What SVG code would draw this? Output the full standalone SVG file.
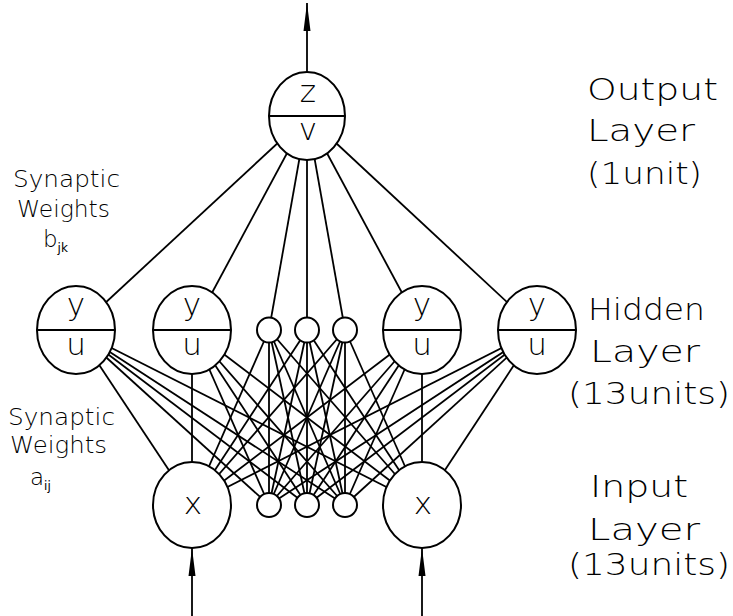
<svg xmlns="http://www.w3.org/2000/svg" width="733" height="616" viewBox="0 0 733 616">
<style>
.c{stroke:#000;stroke-width:1.8;fill:none}
.n{stroke:#000;stroke-width:2;fill:#fff}
.d{stroke:#000;stroke-width:2}
.t{font-family:"DejaVu Sans","Liberation Sans",sans-serif;font-weight:200;fill:#000}
.lab{font-size:30px}
.sm{font-size:23px}
.nl{font-size:31px;text-anchor:middle}
</style>
<defs>
<marker id="ah" viewBox="0 -4 28 8" refX="28" refY="0" markerWidth="28" markerHeight="8" markerUnits="userSpaceOnUse" orient="auto">
<path d="M0,-3.5 L28,0 L0,3.5 z" fill="#000"/>
</marker>
</defs>
<rect width="733" height="616" fill="#fff"/>
<g id="connectors" class="c">
<line x1="307" y1="72" x2="307" y2="3" marker-end="url(#ah)"/>
<line x1="192" y1="616" x2="192" y2="548" marker-end="url(#ah)"/>
<line x1="422" y1="616" x2="422" y2="548" marker-end="url(#ah)"/>
<line x1="307" y1="116" x2="76" y2="330"/>
<line x1="307" y1="116" x2="192" y2="330"/>
<line x1="307" y1="116" x2="269" y2="330"/>
<line x1="307" y1="116" x2="307" y2="330"/>
<line x1="307" y1="116" x2="345" y2="330"/>
<line x1="307" y1="116" x2="422" y2="330"/>
<line x1="307" y1="116" x2="537" y2="330"/>
<line x1="76" y1="330" x2="192" y2="505"/><line x1="76" y1="330" x2="269" y2="505"/><line x1="76" y1="330" x2="307" y2="505"/><line x1="76" y1="330" x2="345" y2="505"/><line x1="76" y1="330" x2="422" y2="505"/>
<line x1="192" y1="330" x2="192" y2="505"/><line x1="192" y1="330" x2="269" y2="505"/><line x1="192" y1="330" x2="307" y2="505"/><line x1="192" y1="330" x2="345" y2="505"/><line x1="192" y1="330" x2="422" y2="505"/>
<line x1="269" y1="330" x2="192" y2="505"/><line x1="269" y1="330" x2="269" y2="505"/><line x1="269" y1="330" x2="307" y2="505"/><line x1="269" y1="330" x2="345" y2="505"/><line x1="269" y1="330" x2="422" y2="505"/>
<line x1="307" y1="330" x2="192" y2="505"/><line x1="307" y1="330" x2="269" y2="505"/><line x1="307" y1="330" x2="307" y2="505"/><line x1="307" y1="330" x2="345" y2="505"/><line x1="307" y1="330" x2="422" y2="505"/>
<line x1="345" y1="330" x2="192" y2="505"/><line x1="345" y1="330" x2="269" y2="505"/><line x1="345" y1="330" x2="307" y2="505"/><line x1="345" y1="330" x2="345" y2="505"/><line x1="345" y1="330" x2="422" y2="505"/>
<line x1="422" y1="330" x2="192" y2="505"/><line x1="422" y1="330" x2="269" y2="505"/><line x1="422" y1="330" x2="307" y2="505"/><line x1="422" y1="330" x2="345" y2="505"/><line x1="422" y1="330" x2="422" y2="505"/>
<line x1="537" y1="330" x2="192" y2="505"/><line x1="537" y1="330" x2="269" y2="505"/><line x1="537" y1="330" x2="307" y2="505"/><line x1="537" y1="330" x2="345" y2="505"/><line x1="537" y1="330" x2="422" y2="505"/>
</g>
<g id="output">
<ellipse class="n" cx="307" cy="116" rx="38" ry="44"/>
<line class="d" x1="269" y1="116" x2="345" y2="116"/>
<text class="t nl" x="308" y="102">z</text>
<text class="t nl" x="308" y="140">v</text>
</g>
<g id="hidden1">
<ellipse class="n" cx="76" cy="330" rx="39" ry="44"/>
<line class="d" x1="37" y1="330" x2="115" y2="330"/>
<text class="t nl" x="76" y="315">y</text>
<text class="t nl" x="76" y="355">u</text>
</g>
<g id="hidden2">
<ellipse class="n" cx="192" cy="330" rx="39" ry="44"/>
<line class="d" x1="153" y1="330" x2="231" y2="330"/>
<text class="t nl" x="192" y="315">y</text>
<text class="t nl" x="192" y="355">u</text>
</g>
<g id="hidden3"><ellipse class="n" cx="269" cy="330" rx="12" ry="12.5"/></g>
<g id="hidden4"><ellipse class="n" cx="307" cy="330" rx="12" ry="12.5"/></g>
<g id="hidden5"><ellipse class="n" cx="345" cy="330" rx="12" ry="12.5"/></g>
<g id="hidden6">
<ellipse class="n" cx="422" cy="330" rx="39" ry="44"/>
<line class="d" x1="383" y1="330" x2="461" y2="330"/>
<text class="t nl" x="422" y="315">y</text>
<text class="t nl" x="422" y="355">u</text>
</g>
<g id="hidden7">
<ellipse class="n" cx="537" cy="330" rx="39" ry="44"/>
<line class="d" x1="498" y1="330" x2="576" y2="330"/>
<text class="t nl" x="537" y="315">y</text>
<text class="t nl" x="537" y="355">u</text>
</g>
<g id="input1">
<ellipse class="n" cx="192" cy="505" rx="39" ry="43"/>
<text class="t nl" x="193" y="514">x</text>
</g>
<g id="input2"><ellipse class="n" cx="269" cy="505" rx="12" ry="12"/></g>
<g id="input3"><ellipse class="n" cx="307" cy="505" rx="12" ry="12"/></g>
<g id="input4"><ellipse class="n" cx="345" cy="505" rx="12" ry="12"/></g>
<g id="input5">
<ellipse class="n" cx="422" cy="505" rx="39" ry="43"/>
<text class="t nl" x="423" y="514">x</text>
</g>
<g id="label-b">
<text class="t sm" x="13" y="187" textLength="107" lengthAdjust="spacingAndGlyphs">Synaptic</text>
<text class="t sm" x="17" y="217" textLength="93" lengthAdjust="spacingAndGlyphs">Weights</text>
<text class="t sm" x="43" y="247">b<tspan font-size="12" font-weight="normal" dy="5">jk</tspan></text>
</g>
<g id="label-a">
<text class="t sm" x="8" y="425" textLength="107" lengthAdjust="spacingAndGlyphs">Synaptic</text>
<text class="t sm" x="10" y="453" textLength="97" lengthAdjust="spacingAndGlyphs">Weights</text>
<text class="t sm" x="30" y="485">a<tspan font-size="12" font-weight="normal" dy="5">ij</tspan></text>
</g>
<g id="label-output">
<text class="t lab" x="587" y="100" textLength="131" lengthAdjust="spacingAndGlyphs">Output</text>
<text class="t lab" x="587" y="141" textLength="108" lengthAdjust="spacingAndGlyphs">Layer</text>
<text class="t lab" x="587" y="184" textLength="115" lengthAdjust="spacingAndGlyphs">(1unit)</text>
</g>
<g id="label-hidden">
<text class="t lab" x="588" y="320" textLength="117" lengthAdjust="spacingAndGlyphs">Hidden</text>
<text class="t lab" x="590" y="362" textLength="110" lengthAdjust="spacingAndGlyphs">Layer</text>
<text class="t lab" x="568" y="404" textLength="162" lengthAdjust="spacingAndGlyphs">(13units)</text>
</g>
<g id="label-input">
<text class="t lab" x="590" y="497" textLength="98" lengthAdjust="spacingAndGlyphs">Input</text>
<text class="t lab" x="588" y="540" textLength="112" lengthAdjust="spacingAndGlyphs">Layer</text>
<text class="t lab" x="568" y="575" textLength="162" lengthAdjust="spacingAndGlyphs">(13units)</text>
</g>
</svg>
